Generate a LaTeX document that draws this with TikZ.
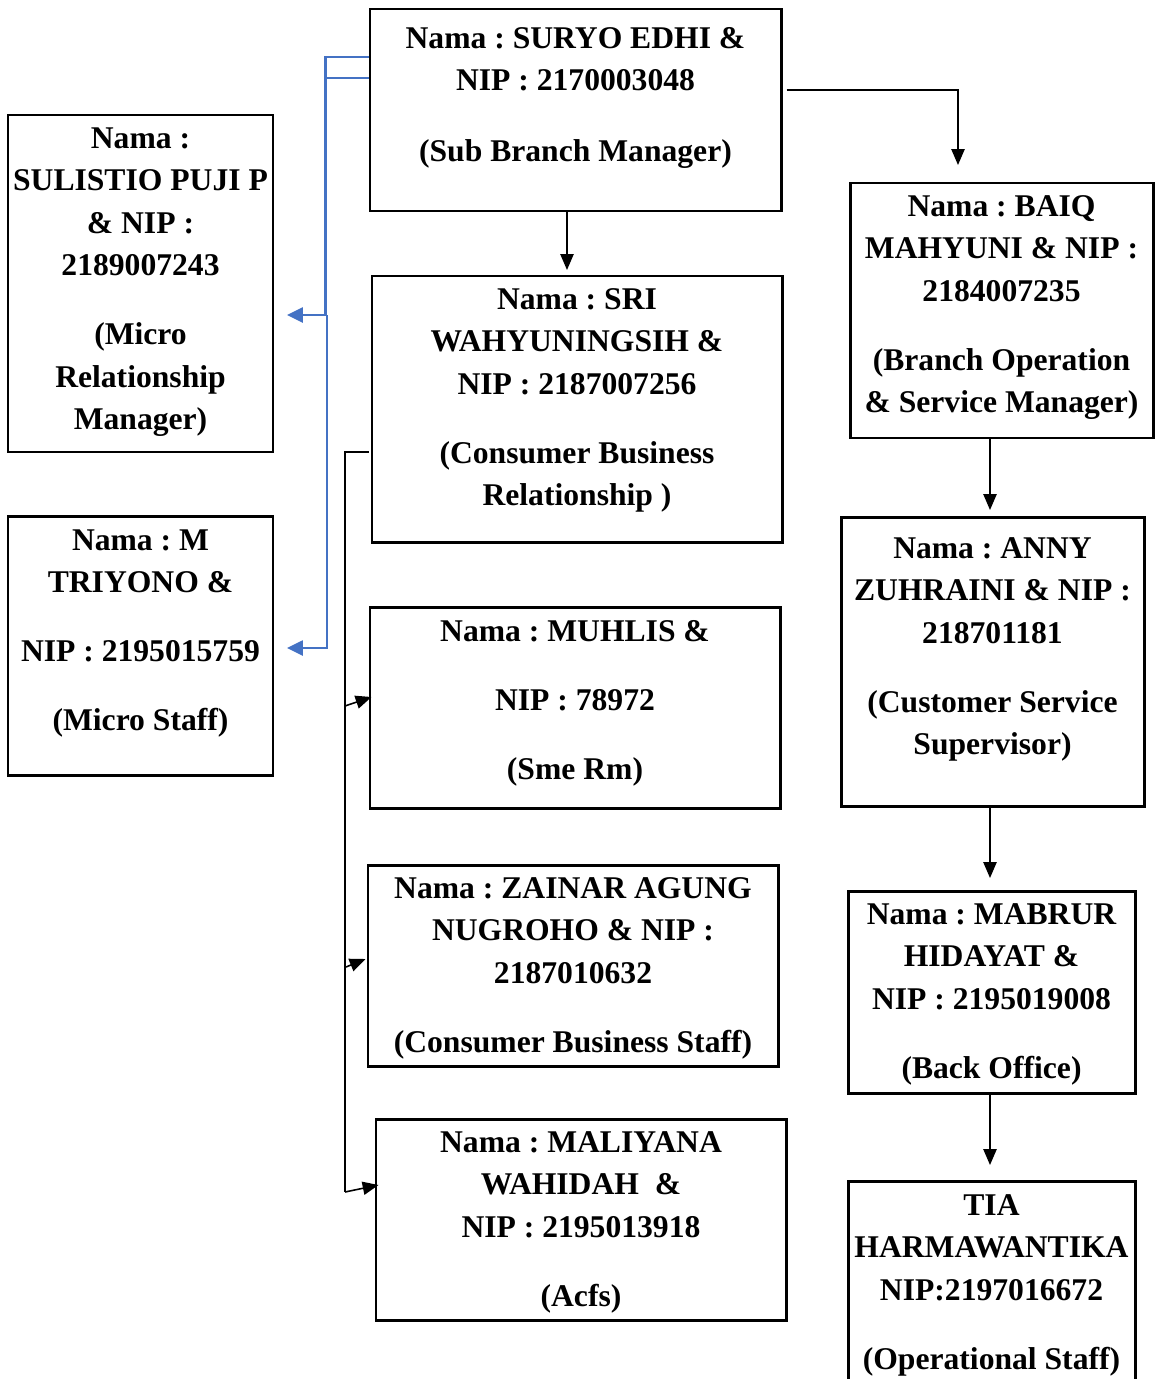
\documentclass[tikz,border=0pt]{standalone}
\usepackage{fontspec}
\setmainfont{Liberation Serif}
\usetikzlibrary{arrows.meta, positioning, fit}
\definecolor{linkblue}{RGB}{68,114,196}

\tikzset{
  box/.style={draw, line width=1.7pt, inner sep=0pt},
  txt/.style={anchor=north, align=center, inner sep=0pt, font=\fontsize{18}{24.2}\selectfont\bfseries\frenchspacing},
  link/.style={line width=0.9pt},
  conn/.style={link, -{Triangle[length=9pt, width=7.5pt]}},
  bluelink/.style={linkblue, line width=1.3pt},
  blueconn/.style={bluelink, -{Triangle[length=9pt, width=8.5pt]}}
}
\newcommand{\linegap}{\\[15pt]}

\begin{document}
\begin{tikzpicture}[x=0.02cm, y=-0.02cm]
  \useasboundingbox (0,0) rectangle (1159,1379);
  \clip (0,0) rectangle (1159,1379);

  % boxes, by corners
  \foreach \n/\x/\y/\X/\Y in {suryo/370/9/781/211, sulistio/8/115/273/452, triyono/8/516/273/775,
      sri/372/276/782/542, muhlis/370/607/780/808, zainar/368/865/778/1066, maliyana/376/1119/786/1320,
      baiq/850/183/1153/438, anny/841/517/1144/806, mabrur/848/891/1135/1093, tia/848/1181/1135/1420}
    \node[box, fit={(\x,\y) (\X,\Y)}] (\n) {};

  \node[txt] (suryo-t) at (575.5,27) {Nama : SURYO EDHI \&\\NIP : 2170003048\\[16pt](Sub Branch Manager)};
  \node[txt] (sulistio-t) at (140.5,127) {Nama :\\SULISTIO PUJI P\\\& NIP :\\2189007243\linegap(Micro\\Relationship\\Manager)};
  \node[txt] (triyono-t) at (140.5,529) {Nama : M\\TRIYONO \&\linegap NIP : 2195015759\linegap(Micro Staff)};
  \node[txt] (sri-t) at (577,288) {Nama : SRI\\WAHYUNINGSIH \&\\NIP : 2187007256\linegap(Consumer Business\\Relationship )};
  \node[txt] (muhlis-t) at (575,620) {Nama : MUHLIS \&\linegap NIP : 78972\linegap(Sme Rm)};
  \node[txt] (zainar-t) at (573,877) {Nama : ZAINAR AGUNG\\NUGROHO \& NIP :\\2187010632\linegap(Consumer Business Staff)};
  \node[txt] (maliyana-t) at (581,1131) {Nama : MALIYANA\\WAHIDAH~~\&\\NIP : 2195013918\linegap(Acfs)};
  \node[txt] (baiq-t) at (1001.5,195) {Nama : BAIQ\\MAHYUNI \& NIP :\\2184007235\linegap(Branch Operation\\\& Service Manager)};
  \node[txt] (anny-t) at (992.5,537) {Nama : ANNY\\ZUHRAINI \& NIP :\\218701181\linegap(Customer Service\\Supervisor)};
  \node[txt] (mabrur-t) at (991.5,903) {Nama : MABRUR\\HIDAYAT \&\\NIP : 2195019008\linegap(Back Office)};
  \node[txt] (tia-t) at (991.5,1194) {TIA\\HARMAWANTIKA\\NIP:2197016672\linegap(Operational Staff)};

  % arrow ends and bus points
  \coordinate (baiq-in) at (958,165);
  \coordinate (sri-in) at (567,270);
  \coordinate (anny-in) at (990,510);
  \coordinate (mabrur-in) at (990,878);
  \coordinate (tia-in) at (990,1165);
  \coordinate (sulistio-in) at (287,315);
  \coordinate (triyono-in) at (287,648);
  \coordinate (bbus) at (327,315);
  \coordinate (lbus-top) at (345,452);
  \coordinate (lbus-a) at (345,706);
  \coordinate (lbus-b) at (346,967);
  \coordinate (lbus-c) at (345,1192);

  \draw[conn] ([shift={(4,-20)}]suryo.east) -| (baiq-in);
  \draw[conn] (sri-in |- suryo.south) -- (sri-in);
  \draw[conn] (anny-in |- baiq.south) -- (anny-in);
  \draw[conn] (mabrur-in |- anny.south) -- (mabrur-in);
  \draw[conn] (tia-in |- mabrur.south) -- (tia-in);

  % blue links to the micro team
  \draw[bluelink] ([shift={(0,-53)}]suryo.west) -- ++(-43,0) |- (bbus);
  \draw[bluelink] ([shift={(0,-32)}]suryo.west) -- ++(-43,0);
  \draw[blueconn] (bbus) |- (triyono-in);
  \draw[blueconn] (bbus) -- (sulistio-in);

  % consumer business side
  \draw[link] ([shift={(-2,43)}]sri.west) -- (lbus-top) -- (lbus-c);
  \draw[conn] (lbus-a) -- ([shift={(3,-10.5)}]muhlis.west);
  \draw[conn] (lbus-b) -- ([shift={(-1,-6.5)}]zainar.west);
  \draw[conn] (lbus-c) -- ([shift={(4,-34.5)}]maliyana.west);
\end{tikzpicture}
\end{document}
